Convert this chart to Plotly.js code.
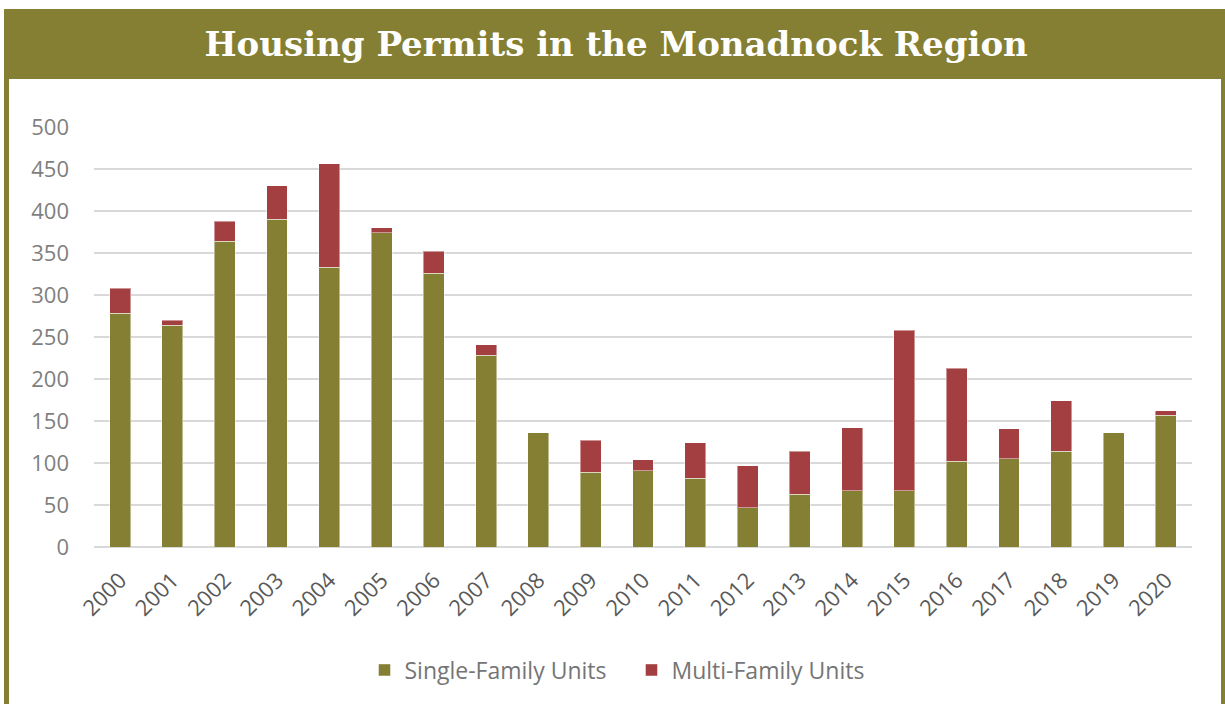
<!DOCTYPE html>
<html>
<head>
<meta charset="utf-8">
<script src="https://cdn.plot.ly/plotly-3.0.1.min.js"></script>
<style>html,body{margin:0;padding:0;background:#fff;}#chart{width:1225px;height:704px;}</style>
</head>
<body>
<div id="chart"></div>
<script>
const years = ["2000","2001","2002","2003","2004","2005","2006","2007","2008","2009","2010","2011","2012","2013","2014","2015","2016","2017","2018","2019","2020"];
const singleFamily = [278,264,364,390,333,374,326,228,136,89,91,82,47,63,67,67,102,105,114,136,157];
const multiFamily = [30,6,24,40,123,6,26,13,0,38,13,42,50,51,75,191,111,36,60,0,5];
const yTicks = [0,50,100,150,200,250,300,350,400,450,500];

const OLIVE = "#857F33";
const RED = "#A33F41";

const W = 1225, H = 704;
const L = 94, R = 33, T = 127, B = 157;
const pw = W - L - R, ph = H - T - B;
const px = v => (v - L) / pw;
const py = v => (H - B - v) / ph;

const traces = [
  {type:"bar", name:"Single-Family Units", x:years, y:singleFamily,
   marker:{color:OLIVE, line:{color:"rgba(255,255,255,0.45)", width:1}}},
  {type:"bar", name:"Multi-Family Units", x:years, y:multiFamily,
   marker:{color:RED, line:{color:"rgba(255,255,255,0.45)", width:1}}}
];

const layout = {
  width:W, height:H,
  margin:{l:L, r:R, t:T, b:B, pad:0},
  paper_bgcolor:"#fff", plot_bgcolor:"#fff",
  barmode:"stack", bargap:0.6,
  showlegend:true,
  title:{text:"<b>Housing Permits in the Monadnock Region</b>", xref:"container", x:0.503, xanchor:"center",
         yref:"container", y:1-44/H, yanchor:"middle",
         font:{family:"DejaVu Serif, serif", size:34, color:"#ffffff"}},
  xaxis:{type:"category", tickangle:-45, showgrid:false, zeroline:false, showline:false,
         ticks:"", ticklabelstandoff:15,
         tickfont:{family:"Open Sans, sans-serif", size:22, color:"#595959"}},
  yaxis:{range:[0,500], tickvals:yTicks, ticktext:yTicks.map(String), showgrid:true, gridcolor:"#D9D9D9", gridwidth:2,
         zeroline:true, zerolinecolor:"#D9D9D9", zerolinewidth:2, showline:false, ticks:"",
         ticklabelstandoff:24,
         tickfont:{family:"Open Sans, sans-serif", size:22, color:"#7F7F7F"}},
  legend:{orientation:"h", xref:"container", x:0.5155, xanchor:"center", yref:"container", y:1-670/H, yanchor:"middle",
          itemwidth:30, entrywidth:222, entrywidthmode:"pixels",
          font:{family:"Open Sans, sans-serif", size:23, color:"#757575"}, itemclick:false, traceorder:"normal"},
  shapes:[
    {type:"rect", xref:"paper", yref:"paper", x0:px(4), x1:px(1225), y0:py(79), y1:py(9), fillcolor:OLIVE, line:{width:0}, layer:"below"},
    {type:"rect", xref:"paper", yref:"paper", x0:px(4), x1:px(9), y0:py(704), y1:py(79), fillcolor:OLIVE, line:{width:0}, layer:"below"},
    {type:"rect", xref:"paper", yref:"paper", x0:px(1221), x1:px(1225), y0:py(704), y1:py(79), fillcolor:OLIVE, line:{width:0}, layer:"below"}
  ]
};

Plotly.newPlot("chart", traces, layout, {displayModeBar:false, staticPlot:true});
</script>
</body>
</html>
